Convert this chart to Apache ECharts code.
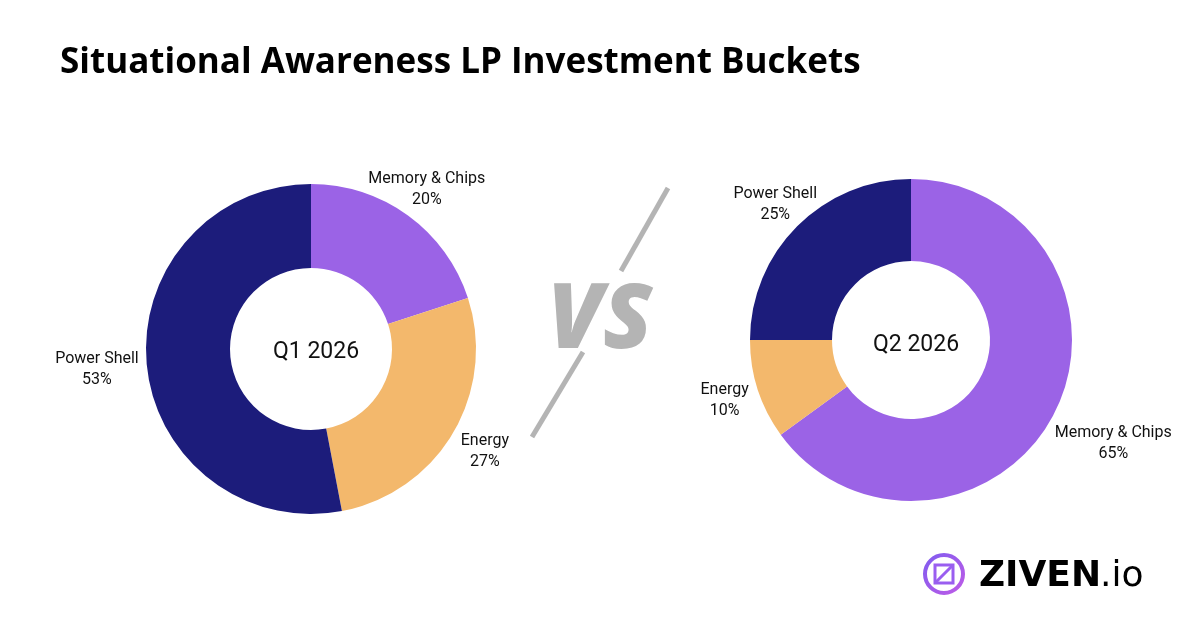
<!DOCTYPE html>
<html>
<head>
<meta charset="utf-8">
<script src="https://cdn.jsdelivr.net/npm/echarts@6/dist/echarts.min.js"></script>
<style>
  html, body { margin: 0; padding: 0; background: #fff; }
  #chart { width: 1200px; height: 628px; }
</style>
</head>
<body>
<div id="chart"></div>
<script>
// data
const q1Buckets = ["Memory & Chips", "Energy", "Power Shell"];
const q1Values = [20, 27, 53];
const q2Buckets = ["Memory & Chips", "Energy", "Power Shell"];
const q2Values = [65, 10, 25];
const periods = ["Q1 2026", "Q2 2026"];

const colors = {
  "Memory & Chips": "#9b63e6",
  "Energy": "#f3b86c",
  "Power Shell": "#1c1c7b",
};
// how far each label sits beyond the ring
const labelGap = [
  { "Memory & Chips": 32, "Energy": 37, "Power Shell": 50 },
  { "Memory & Chips": 66, "Energy": 35, "Power Shell": 31 },
];

const chart = echarts.init(document.getElementById("chart"));

const makePie = (names, values, idx, center, radius) => {
  let items = [];
  for (let i = 0; i < names.length; i++) {
    items.push({
      name: names[i],
      value: values[i],
      itemStyle: { color: colors[names[i]] },
      labelLine: { show: false, length: labelGap[idx][names[i]], length2: 0 },
    });
  }
  return {
    type: "pie",
    center: center,
    radius: radius,
    startAngle: 90,
    clockwise: true,
    avoidLabelOverlap: false,
    silent: true,
    label: {
      show: true,
      position: "outside",
      distanceToLabelLine: 0,
      formatter: "{b}\n{c}%",
      color: "#111",
      fontFamily: "Roboto",
      fontSize: 16,
      lineHeight: 21,
    },
    labelLayout: { align: "center", verticalAlign: "middle" },
    itemStyle: { borderWidth: 0 },
    data: items,
  };
};

chart.setOption({
  backgroundColor: "#fff",
  animation: false,
  title: [
    {
      text: "Situational Awareness LP Investment Buckets",
      left: 55,
      top: 41,
      textStyle: { fontFamily: "Open Sans", fontWeight: "bold", fontSize: 35, color: "#000" },
    },
    {
      text: periods[0],
      left: 311,
      top: 347,
      textAlign: "center",
      textVerticalAlign: "middle",
      textStyle: { fontFamily: "Roboto", fontWeight: "normal", fontSize: 23, color: "#111" },
    },
    {
      text: periods[1],
      left: 911,
      top: 340,
      textAlign: "center",
      textVerticalAlign: "middle",
      textStyle: { fontFamily: "Roboto", fontWeight: "normal", fontSize: 23, color: "#111" },
    },
  ],
  series: [
    makePie(q1Buckets, q1Values, 0, [311, 349], [81, 165]),
    makePie(q2Buckets, q2Values, 1, [911, 340], [79, 161]),
  ],
  graphic: [
    // vs slash
    { type: "line", shape: { x1: 668, y1: 188, x2: 621, y2: 271 }, style: { stroke: "#b4b4b4", lineWidth: 5 } },
    { type: "line", shape: { x1: 583, y1: 352, x2: 532, y2: 437 }, style: { stroke: "#b4b4b4", lineWidth: 5 } },
    {
      type: "text",
      x: 600,
      y: 322,
      style: {
        text: "VS",
        fill: "#b4b4b4",
        font: "italic 900 90px 'Open Sans'",
        align: "center",
        verticalAlign: "middle",
      },
    },
    // logo
    {
      type: "circle",
      shape: { cx: 944, cy: 574, r: 19 },
      style: {
        fill: "none",
        lineWidth: 4,
        stroke: new echarts.graphic.LinearGradient(0, 0, 1, 1, [
          { offset: 0, color: "#7d5cf0" },
          { offset: 1, color: "#c15be6" },
        ]),
      },
    },
    {
      type: "rect",
      shape: { x: 935, y: 565, width: 18, height: 18 },
      style: { fill: "none", stroke: "#9a5ef0", lineWidth: 3 },
    },
    {
      type: "line",
      shape: { x1: 936, y1: 582, x2: 952, y2: 566 },
      style: { stroke: "#9a5ef0", lineWidth: 3 },
    },
    {
      type: "text",
      x: 979,
      y: 577,
      style: {
        text: "ZIVEN",
        fill: "#000",
        font: "bold 36px 'DejaVu Sans'",
        verticalAlign: "middle",
      },
    },
    {
      type: "text",
      x: 1100,
      y: 577,
      style: {
        text: ".io",
        fill: "#000",
        font: "normal 36px 'DejaVu Sans'",
        verticalAlign: "middle",
      },
    },
  ],
});
</script>
</body>
</html>
